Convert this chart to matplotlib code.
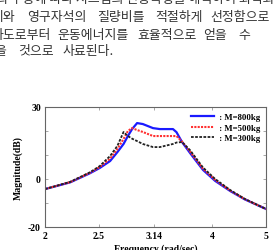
import matplotlib.pyplot as plt
from matplotlib.ticker import NullLocator

# frequency (rad/sec) and magnitude (dB)
freq = [2.00, 2.22, 2.41, 2.51, 2.62, 2.70, 2.77, 2.82, 2.87, 2.93, 3.00,
        3.13, 3.22, 3.40, 3.45, 3.53, 3.65, 3.85, 4.05, 4.31, 4.58, 5.00]
mag_800 = [-4.2, -1.4, 2.4, 4.6, 7.5, 11.2, 14.6, 17.9, 20.8, 23.3, 22.9,
           21.2, 20.8, 20.8, 19.5, 15.4, 10.8, 3.8, -0.8, -5.0, -8.5, -12.5]
mag_500 = [-4.2, -1.3, 2.6, 5.0, 8.5, 12.5, 16.7, 20.0, 21.2, 20.4, 19.6,
           17.9, 17.9, 17.9, 17.9, 15.6, 11.4, 4.3, -0.4, -4.8, -8.4, -12.5]
mag_300 = [-4.2, -1.2, 2.8, 5.4, 9.6, 13.8, 19.6, 17.9, 16.8, 15.8, 14.6,
           13.3, 13.3, 14.6, 15.2, 15.4, 12.0, 4.8, 0.0, -4.6, -8.3, -12.5]

x_ticks = [2, 2.5, 3.14, 4, 5]
x_tick_labels = ["2", "2.5", "3.14", "4", "5"]
y_ticks = [-20, -10, 0, 10, 20, 30]
y_tick_labels = ["-20", "", "0", "", "", "30"]

# body text above the figure (left edge is cropped in the reference)
text_lines = [
    (-1, [(-4, "의 구동에 따라 시스템의 진동특성을 해석하여 최적화한 결과")]),
    (18, [(-8, "이와"), (27, "영구자석의"), (97, "질량비를"), (155, "적절하게"), (210, "선정함으로")]),
    (35, [(-8, "파도로부터"), (57, "운동에너지를"), (137, "효율적으로"), (203, "얻을"), (238, "수")]),
    (51, [(-6, "을"), (18, "것으로"), (63, "사료된다.")]),
]

W, H = 276, 251
fig = plt.figure(figsize=(W / 100, H / 100), dpi=100)

for y, words in text_lines:
    for x, word in words:
        fig.text(x / W, 1 - y / H, word, ha="left", va="center", fontsize=9.3,
                 family=["Noto Sans CJK KR", "DejaVu Sans"], color="#333333")

ax = fig.add_axes([45 / W, 1 - 228 / H, 221 / W, 120 / H])

serif = "Liberation Serif"
ax.plot(freq, mag_800, color="#1a1aff", linewidth=1.6, label=" : M=800kg")
ax.plot(freq, mag_500, color="#ff3030", linewidth=1.5, linestyle=(0, (1, 0.6)),
        label=" : M=500kg")
ax.plot(freq, mag_300, color="#222222", linewidth=1.3, linestyle=(0, (1.5, 0.8)),
        label=" : M=300kg")

ax.set_xscale("log")
ax.set_xlim(2, 5)
ax.set_ylim(-20, 30)
ax.xaxis.set_minor_locator(NullLocator())
ax.set_xticks(x_ticks)
ax.set_xticklabels(x_tick_labels)
ax.set_yticks(y_ticks)
ax.set_yticklabels(y_tick_labels)

ax.tick_params(direction="in", top=True, right=True, length=2.5, width=0.6,
               color="#999999", labelsize=7, pad=3)
for lab in ax.get_xticklabels() + ax.get_yticklabels():
    lab.set_family(serif)
    lab.set_fontweight("bold")
for sp in ax.spines.values():
    sp.set_color("#666666")
    sp.set_linewidth(0.8)

ax.set_ylabel("Magnitude(dB)", family=serif, fontweight="bold", fontsize=7, labelpad=4)
ax.set_xlabel("Frequency (rad/sec)", family=serif, fontweight="bold", fontsize=7, labelpad=2)

ax.legend(loc="upper right", frameon=False, prop={"family": serif, "weight": "bold", "size": 6.3},
          handlelength=2.6, handletextpad=0.3, labelspacing=0.25, borderaxespad=0.3)

fig.savefig("out.png", dpi=100)
